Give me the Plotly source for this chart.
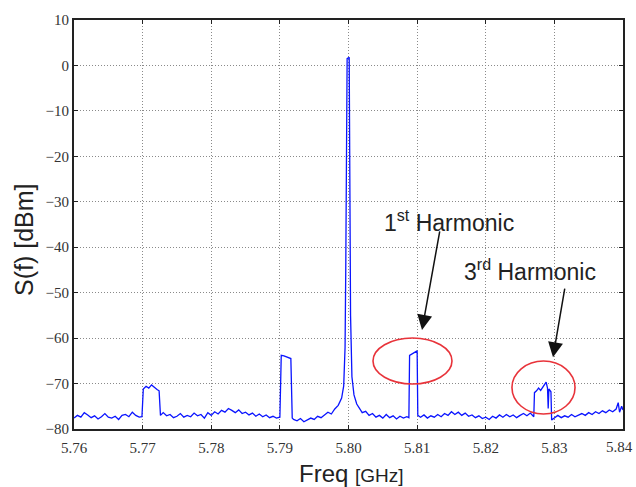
import plotly.graph_objects as go

# ---- data ----
freq_ghz = [
    5.7600, 5.7605, 5.7610, 5.7615, 5.7620, 5.7625, 5.7630, 5.7635, 5.7640, 5.7645,
    5.7650, 5.7655, 5.7660, 5.7665, 5.7670, 5.7675, 5.7680, 5.7685, 5.7690, 5.7695,
    5.7699, 5.7701, 5.7705, 5.7709, 5.7713, 5.7717, 5.7721, 5.7724, 5.7726,
    5.7730, 5.7735, 5.7740, 5.7745, 5.7750, 5.7755, 5.7760, 5.7765, 5.7770, 5.7775,
    5.7780, 5.7785, 5.7790, 5.7795, 5.7800, 5.7805, 5.7810, 5.7815, 5.7820, 5.7825,
    5.7830, 5.7835, 5.7840, 5.7845, 5.7850, 5.7855, 5.7860, 5.7865, 5.7870, 5.7875,
    5.7880, 5.7885, 5.7890, 5.7895, 5.7900,
    5.7902, 5.7906, 5.7910, 5.7914, 5.7916, 5.7918,
    5.7920, 5.7925, 5.7930, 5.7935, 5.7940, 5.7945, 5.7950, 5.7955, 5.7960, 5.7965,
    5.7970, 5.7975, 5.7980, 5.7985, 5.7990, 5.7993, 5.7995, 5.7996, 5.7997, 5.7998,
    5.8001, 5.8002, 5.8003, 5.8005, 5.8008, 5.8012, 5.8016, 5.8020, 5.8025, 5.8030,
    5.8035, 5.8040, 5.8045, 5.8050, 5.8055, 5.8060, 5.8065, 5.8070, 5.8075, 5.8080,
    5.8085, 5.8088, 5.8089, 5.8093, 5.8097, 5.8100, 5.8101,
    5.8105, 5.8110, 5.8115, 5.8120, 5.8125, 5.8130, 5.8135, 5.8140, 5.8145, 5.8150,
    5.8155, 5.8160, 5.8165, 5.8170, 5.8175, 5.8180, 5.8185, 5.8190, 5.8195, 5.8200,
    5.8205, 5.8210, 5.8215, 5.8220, 5.8225, 5.8230, 5.8235, 5.8240, 5.8245, 5.8250,
    5.8255, 5.8260, 5.8265, 5.8270,
    5.8271, 5.8274, 5.8277, 5.8280, 5.8283, 5.8286, 5.8288, 5.8290, 5.8291, 5.8292,
    5.8295, 5.8296,
    5.8300, 5.8305, 5.8310, 5.8315, 5.8320, 5.8325, 5.8330, 5.8335, 5.8340, 5.8345,
    5.8350, 5.8355, 5.8360, 5.8365, 5.8370, 5.8375, 5.8380, 5.8385, 5.8390, 5.8393,
    5.8395, 5.8398, 5.8400,
]
power_dbm = [
    -77.6, -77.0, -77.4, -76.4, -76.9, -77.5, -77.1, -77.8, -77.3, -76.6,
    -77.4, -77.6, -77.2, -77.9, -77.0, -76.8, -77.3, -76.3, -77.0, -77.4,
    -77.3, -71.2, -70.6, -71.0, -70.3, -70.9, -71.3, -71.6, -77.0,
    -76.4, -77.1, -76.8, -77.5, -77.2, -76.6, -77.4, -77.0, -77.3, -76.5,
    -77.1, -76.8, -77.6, -76.4, -77.0, -76.2, -76.7, -75.9, -76.3, -75.5,
    -75.9, -76.4, -75.8, -76.6, -76.3, -76.9, -76.5, -77.2, -76.7, -77.3,
    -76.9, -77.5, -77.2, -77.6, -77.4,
    -63.8, -63.9, -64.1, -64.3, -64.5, -77.6,
    -77.9, -78.2, -77.7, -78.4, -78.0, -77.6, -77.9, -77.2, -77.5, -76.8,
    -76.3, -76.7, -75.6, -74.8, -73.2, -70.5, -62.0, -45.0, -15.0, 1.5,
    1.8, -25.0, -55.0, -68.5, -72.5, -74.5, -75.6, -76.4, -76.1, -77.0,
    -76.6, -77.4, -77.0, -77.6, -76.8, -77.5, -77.1, -77.8, -77.2, -77.6,
    -77.3, -77.5, -63.8, -63.4, -63.1, -62.8, -77.0,
    -77.4, -76.9, -77.6, -77.1, -77.4, -76.8, -77.3, -76.6, -77.0, -76.2,
    -76.8, -76.3, -77.0, -76.5, -77.2, -76.9, -77.5, -77.1, -77.7, -77.4,
    -77.9, -77.2, -77.6, -76.9, -77.4, -76.8, -77.3, -76.9, -77.5, -77.0,
    -76.6, -77.1, -76.5, -77.3,
    -72.0, -71.6, -71.0, -71.5, -70.8, -70.4, -69.7, -71.0, -75.5, -71.2,
    -71.8, -78.0,
    -77.6, -77.0, -77.5, -77.1, -77.4, -76.8, -77.3, -76.9, -76.6, -77.0,
    -76.4, -76.8, -76.2, -76.6, -76.0, -76.4, -75.8, -76.2, -75.6, -74.2,
    -76.3, -75.0, -75.8,
]
x_ticks = [5.76, 5.77, 5.78, 5.79, 5.80, 5.81, 5.82, 5.83, 5.84]
x_tick_text = ["5.76", "5.77", "5.78", "5.79", "5.80", "5.81", "5.82", "5.83", "5.84"]
y_ticks = [10, 0, -10, -20, -30, -40, -50, -60, -70, -80]
y_tick_text = ["10", "0", "\u221210", "\u221220", "\u221230", "\u221240",
               "\u221250", "\u221260", "\u221270", "\u221280"]

FIG_W, FIG_H = 636, 487
M_L, M_R, M_T, M_B = 74, 13, 20, 58
PLOT_W = FIG_W - M_L - M_R
PLOT_H = FIG_H - M_T - M_B

tick_font = dict(family="Liberation Serif", size=15, color="#333")

fig = go.Figure()
fig.add_trace(go.Scatter(x=freq_ghz, y=power_dbm, mode="lines",
                         line=dict(color="#0a14ff", width=1.3),
                         showlegend=False, hoverinfo="skip"))

axis_common = dict(showline=True, linecolor="#222", linewidth=2, mirror="ticks",
                   ticks="inside", ticklen=4, tickcolor="#222",
                   showgrid=True, gridcolor="#8a8a8a", griddash="1px,2px", gridwidth=1,
                   zeroline=False, automargin=False, ticklabeloverflow="allow",
                   tickfont=tick_font)

# last x tick label is drawn as an annotation so it stays inside the page edge
fig.update_xaxes(range=[5.76, 5.84], tickvals=x_ticks[:-1], ticktext=x_tick_text[:-1],
                 ticklabelstandoff=4, **axis_common)
fig.update_yaxes(range=[-80, 10], tickvals=y_ticks, ticktext=y_tick_text,
                 ticklabelstandoff=0, **axis_common)

def py(page_y):
    return (M_T + PLOT_H - page_y) / PLOT_H

def px(page_x):
    return (page_x - M_L) / PLOT_W

annos = [
    dict(x=5.8147, y=-34.2, xref="x", yref="y", showarrow=False,
         text="1<sup>st</sup> Harmonic",
         font=dict(family="Liberation Sans", size=23, color="#222")),
    dict(x=5.8264, y=-45.0, xref="x", yref="y", showarrow=False,
         text="3<sup>rd</sup> Harmonic",
         font=dict(family="Liberation Sans", size=23, color="#222")),
    dict(x=5.81071, y=-58.2, xref="x", yref="y", ax=18, ay=-100, showarrow=True,
         arrowhead=2, arrowsize=2.0, arrowwidth=1.5, arrowcolor="#111", text=""),
    dict(x=5.82980, y=-64.2, xref="x", yref="y", ax=12, ay=-70, showarrow=True,
         arrowhead=2, arrowsize=2.0, arrowwidth=1.5, arrowcolor="#111", text=""),
    dict(x=px(24), y=py(240), xref="paper", yref="paper",
         xanchor="center", yanchor="middle", showarrow=False,
         text="S(f) [dBm]", textangle=-90,
         font=dict(family="Liberation Sans", size=25, color="#222")),
    dict(x=px(351), y=py(474), xref="paper", yref="paper",
         xanchor="center", yanchor="middle", showarrow=False,
         text="Freq <span style='font-size:19px'>[GHz]</span>",
         font=dict(family="Liberation Sans", size=24, color="#222")),
    dict(x=x_ticks[-1], xref="x", y=py(447), yref="paper",
         xanchor="right", xshift=12, yanchor="middle", showarrow=False,
         text=x_tick_text[-1], font=tick_font),
]

shapes = [
    dict(type="circle", xref="x", yref="y", x0=5.80357, x1=5.81508, y0=-70.1, y1=-59.98,
         line=dict(color="#e8333a", width=1.6)),
    dict(type="circle", xref="x", yref="y", x0=5.82382, x1=5.83301, y0=-76.7, y1=-65.04,
         line=dict(color="#e8333a", width=1.6)),
]

fig.update_layout(width=FIG_W, height=FIG_H,
                  margin=dict(l=M_L, r=M_R, t=M_T, b=M_B, autoexpand=False),
                  plot_bgcolor="white", paper_bgcolor="white",
                  annotations=annos, shapes=shapes)

fig.write_html("out.html", config={"displayModeBar": False},
               post_script="document.body.style.margin='0';"
                           "document.body.style.overflow='hidden';")
